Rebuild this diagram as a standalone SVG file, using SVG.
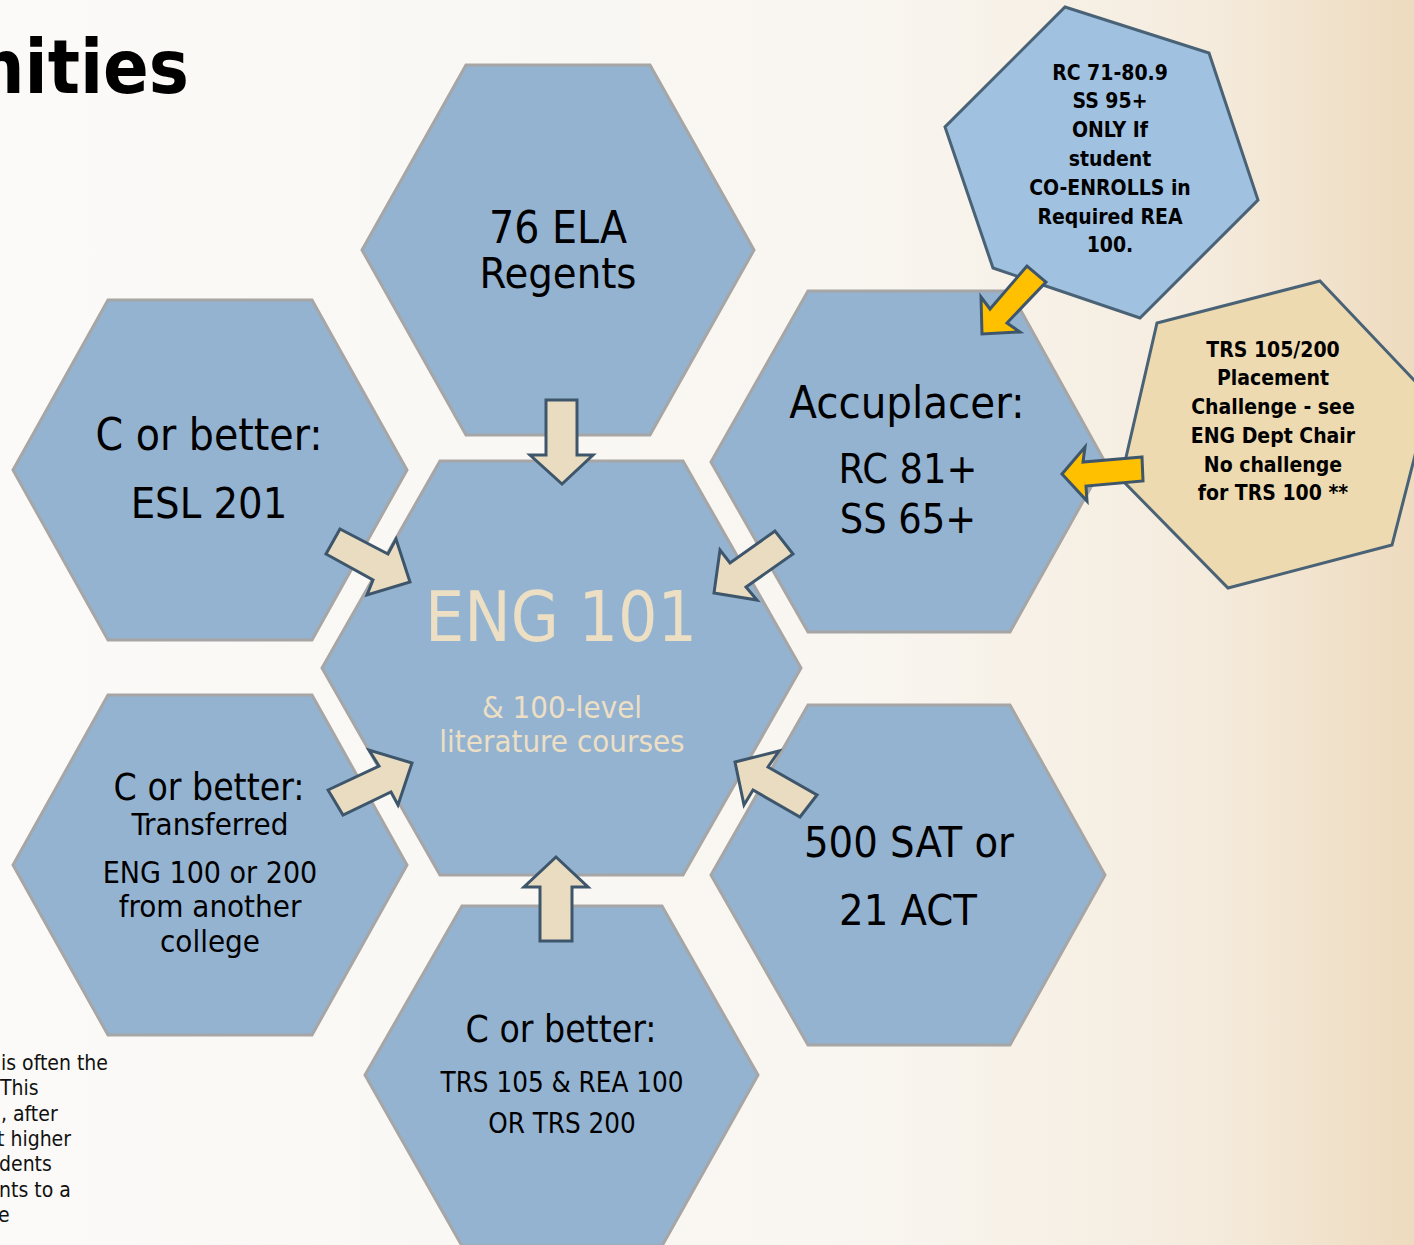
<svg xmlns="http://www.w3.org/2000/svg" width="1414" height="1245" viewBox="0 0 1414 1245">
<defs>
<linearGradient id="bg" x1="0" y1="0" x2="1" y2="0">
<stop offset="0" stop-color="#fbfaf8"/>
<stop offset="0.6" stop-color="#f9f6f1"/>
<stop offset="0.85" stop-color="#f5ecde"/>
<stop offset="1" stop-color="#eedbbf"/>
</linearGradient>
<style>
.hex{fill:#94b3d1;stroke:#a6a6a6;stroke-width:3}
.t{font-family:"DejaVu Sans Condensed","DejaVu Sans",sans-serif;font-stretch:condensed;fill:#000;text-anchor:middle}
.b{font-family:"DejaVu Sans Condensed","DejaVu Sans",sans-serif;font-stretch:condensed;font-weight:bold;font-size:21px;fill:#000;text-anchor:middle}
.c{fill:#ecdfc4}
.arr{fill:#eadcc1;stroke:#3e566b;stroke-width:3;stroke-linejoin:miter}
.ya{fill:#ffc000;stroke:#3e566b;stroke-width:3}
.note{font-family:"DejaVu Sans Condensed","DejaVu Sans",sans-serif;font-stretch:condensed;font-size:21px;fill:#111}
</style>
</defs>
<rect width="1414" height="1245" fill="url(#bg)"/>
<text x="189" y="93" font-family="DejaVu Sans Condensed, DejaVu Sans, sans-serif" font-stretch="condensed" font-weight="bold" font-size="75" text-anchor="end" fill="#000">nities</text>
<g id="note">
<text class="note" x="1" y="1070">is often the</text>
<text class="note" x="0" y="1095">This</text>
<text class="note" x="1" y="1121">, after</text>
<text class="note" x="-3" y="1146">t higher</text>
<text class="note" x="-1" y="1171">dents</text>
<text class="note" x="-1" y="1197">nts to a</text>
<text class="note" x="-2" y="1222">e</text>
</g>
<g id="eng101">
<polygon class="hex" points="440,461 683,461 801,668 683,875 440,875 322,668"/>
<text class="t c" x="561" y="641" font-size="69">ENG 101</text>
<text class="t c" x="562" y="718" font-size="31">&amp; 100-level</text>
<text class="t c" x="562" y="752" font-size="31">literature courses</text>
</g>
<g id="regents">
<polygon class="hex" points="466,65 650,65 754,250 650,435 466,435 362,250"/>
<text class="t" x="558" y="243" font-size="44">76 ELA</text>
<text class="t" x="558" y="288" font-size="43">Regents</text>
</g>
<g id="esl">
<polygon class="hex" points="108,300 312,300 407,470 312,640 108,640 13,470"/>
<text class="t" x="209" y="450" font-size="44">C or better:</text>
<text class="t" x="209" y="518" font-size="43">ESL 201</text>
</g>
<g id="transfer">
<polygon class="hex" points="108,695 312,695 407,865 312,1035 108,1035 13,865"/>
<text class="t" x="209" y="800" font-size="37">C or better:</text>
<text class="t" x="210" y="835" font-size="31">Transferred</text>
<text class="t" x="210" y="883" font-size="30">ENG 100 or 200</text>
<text class="t" x="210" y="917" font-size="31">from another</text>
<text class="t" x="210" y="952" font-size="31">college</text>
</g>
<g id="trs">
<polygon class="hex" points="462,906 662,906 758,1075 662,1246 462,1246 365,1075"/>
<text class="t" x="561" y="1042" font-size="37">C or better:</text>
<text class="t" x="562" y="1092" font-size="27.5">TRS 105 &amp; REA 100</text>
<text class="t" x="562" y="1133" font-size="27.5">OR TRS 200</text>
</g>
<g id="accuplacer">
<polygon class="hex" points="808,291 1010,291 1105,462 1010,632 808,632 711,462"/>
<text class="t" x="907" y="418" font-size="45">Accuplacer:</text>
<text class="t" x="908" y="483" font-size="41">RC 81+</text>
<text class="t" x="908" y="533" font-size="41">SS 65+</text>
</g>
<g id="sat">
<polygon class="hex" points="808,705 1010,705 1105,875 1010,1045 808,1045 711,875"/>
<text class="t" x="909" y="857" font-size="43">500 SAT or</text>
<text class="t" x="908" y="925" font-size="43">21 ACT</text>
</g>
<g id="rc71">
<polygon points="1065,7 1209,53 1258,200 1140,318 993,268 945,127" fill="#a0c2e0" stroke="#4a6276" stroke-width="3"/>
<text class="b" x="1110" y="80">RC 71-80.9</text>
<text class="b" x="1110" y="108">SS 95+</text>
<text class="b" x="1110" y="137">ONLY If</text>
<text class="b" x="1110" y="166">student</text>
<text class="b" x="1110" y="195">CO-ENROLLS in</text>
<text class="b" x="1110" y="224">Required REA</text>
<text class="b" x="1110" y="252">100.</text>
</g>
<g id="challenge">
<polygon points="1320,281 1430,397 1392,545 1228,588 1121,479 1157,323" fill="#eddab0" stroke="#4a6276" stroke-width="3"/>
<text class="b" x="1273" y="357">TRS 105/200</text>
<text class="b" x="1273" y="385">Placement</text>
<text class="b" x="1273" y="414">Challenge - see</text>
<text class="b" x="1273" y="443">ENG Dept Chair</text>
<text class="b" x="1273" y="472">No challenge</text>
<text class="b" x="1273" y="500">for TRS 100 **</text>
</g>
<g id="connectors">
<polygon class="arr" points="546,400 577,400 577,455 593,455 562,484 530,455 546,455"/>
<polygon class="arr" points="556,857 588,887 572,887 572,941 540,941 540,887 524,887"/>
<polygon class="arr" points="340,529 388,554 396,539 410,582 367,595 373,580 326,554"/>
<polygon class="arr" points="775,531 730,563 720,550 714,593 757,600 746,587 793,554"/>
<polygon class="arr" points="328,790 379,766 369,750 412,763 398,805 391,792 343,815"/>
<polygon class="arr" points="735,762 779,751 768,767 817,795 800,817 753,790 744,805"/>
<polygon class="ya" points="1027,266 990,309 981,297 982,334 1020,332 1007,323 1046,282"/>
<polygon class="ya" points="1142,457 1083,462 1085,447 1062,474 1087,501 1086,486 1143,481"/>
</g>
</svg>
